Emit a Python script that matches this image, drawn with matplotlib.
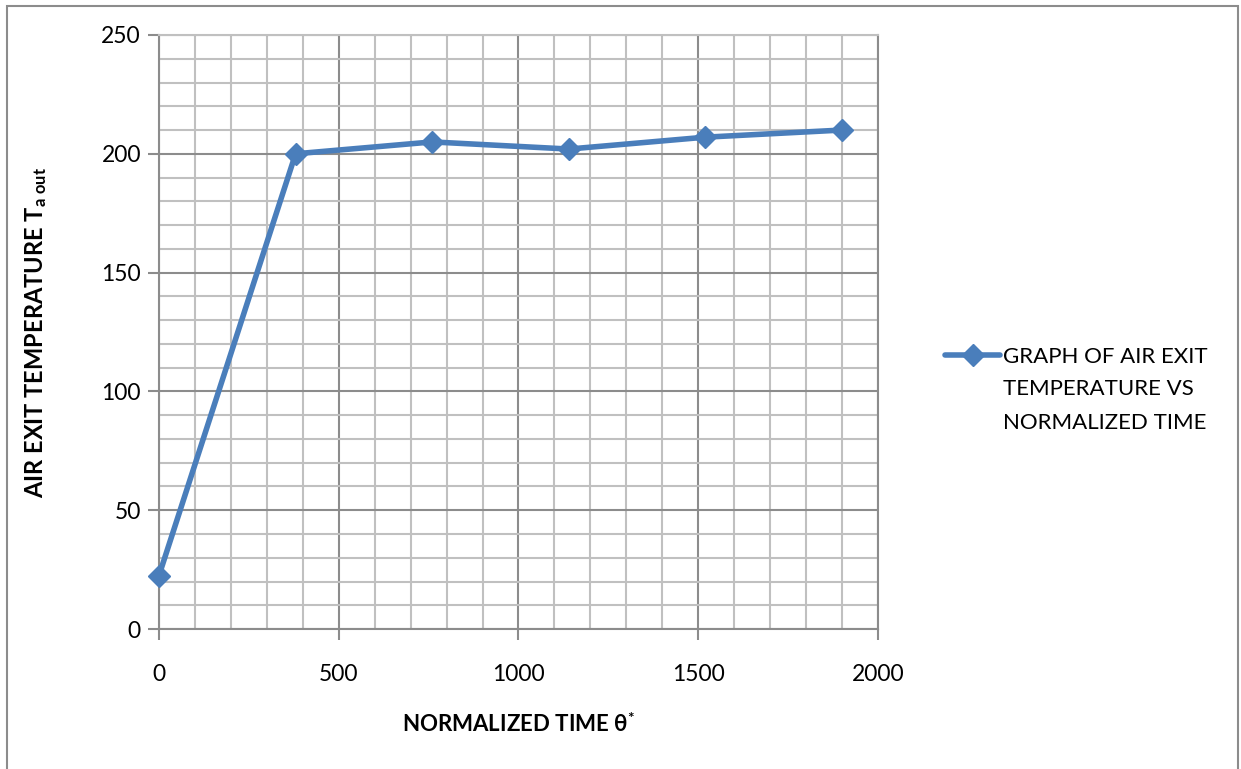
import numpy as np
import matplotlib
matplotlib.use('Agg')
import matplotlib.pyplot as plt
from matplotlib.ticker import MultipleLocator
from matplotlib.patches import Rectangle

plt.rcParams['font.family'] = ['Lato', 'DejaVu Sans']
plt.rcParams['mathtext.fontset'] = 'custom'
plt.rcParams['mathtext.rm'] = 'Lato'
plt.rcParams['mathtext.it'] = 'Lato'
plt.rcParams['mathtext.bf'] = 'Lato:bold'

# normalized time vs air exit temperature
theta = [0, 380, 760, 1140, 1520, 1900]
t_out = [22.5, 200, 205, 202, 207, 210]
series_name = ['GRAPH OF AIR EXIT', 'TEMPERATURE VS', 'NORMALIZED TIME']

fig = plt.figure(figsize=(12.41, 7.69), dpi=100)
ax = fig.add_axes([0.1281, 0.182, 0.5794, 0.7725])

blue = '#4a7ebb'
line, = ax.plot(theta, t_out, color=blue, lw=4, marker='D', ms=11,
                solid_joinstyle='round', solid_capstyle='round', zorder=3,
                clip_on=False)

ax.set_xlim(0, 2000)
ax.set_ylim(0, 250)
ax.xaxis.set_major_locator(MultipleLocator(500))
ax.xaxis.set_minor_locator(MultipleLocator(100))
ax.yaxis.set_major_locator(MultipleLocator(50))
ax.yaxis.set_minor_locator(MultipleLocator(10))

# grid: light minor lines, darker major lines
ax.grid(which='minor', color='#c0c0c0', lw=1.5)
ax.grid(which='major', color='#8c8c8c', lw=1.5)
ax.set_axisbelow(True)
ax.spines['top'].set_color('#c0c0c0')
for side in ['left', 'bottom', 'right']:
    ax.spines[side].set_color('#8c8c8c')
for side in ax.spines:
    ax.spines[side].set_linewidth(1.5)

ax.tick_params(which='major', length=8, width=1.5, color='#8c8c8c',
               labelsize=16.5, pad=5)
ax.tick_params(axis='x', pad=17)
ax.tick_params(which='minor', length=0)

ax.set_xlabel(r'NORMALIZED TIME θ$^{\mathbf{*}}$', fontsize=16,
              fontweight='bold', labelpad=20)
ax.set_ylabel(r'AIR EXIT TEMPERATURE T$_{\mathbf{a\ out}}$', fontsize=17,
              fontweight='bold', labelpad=38)

# legend entry sits beside the first line of the series name
leg = ax.legend([line], [series_name[0]], loc='center left',
                bbox_to_anchor=(1.093, 0.458), frameon=False, fontsize=16,
                handlelength=2.5, handletextpad=0.13, borderpad=0,
                borderaxespad=0)
ax.annotate('\n'.join(series_name[1:]), xy=(0, 0),
            xycoords=leg.get_texts()[0], xytext=(0, -9),
            textcoords='offset points', ha='left', va='top',
            fontsize=16, linespacing=1.82, zorder=6)

# outer chart border
fig.patches.append(Rectangle((0.006, -0.01), 0.9915, 1.002,
                             transform=fig.transFigure, fill=False,
                             edgecolor='#8c8c8c', lw=1.5))

fig.savefig('out.png', dpi=100)
